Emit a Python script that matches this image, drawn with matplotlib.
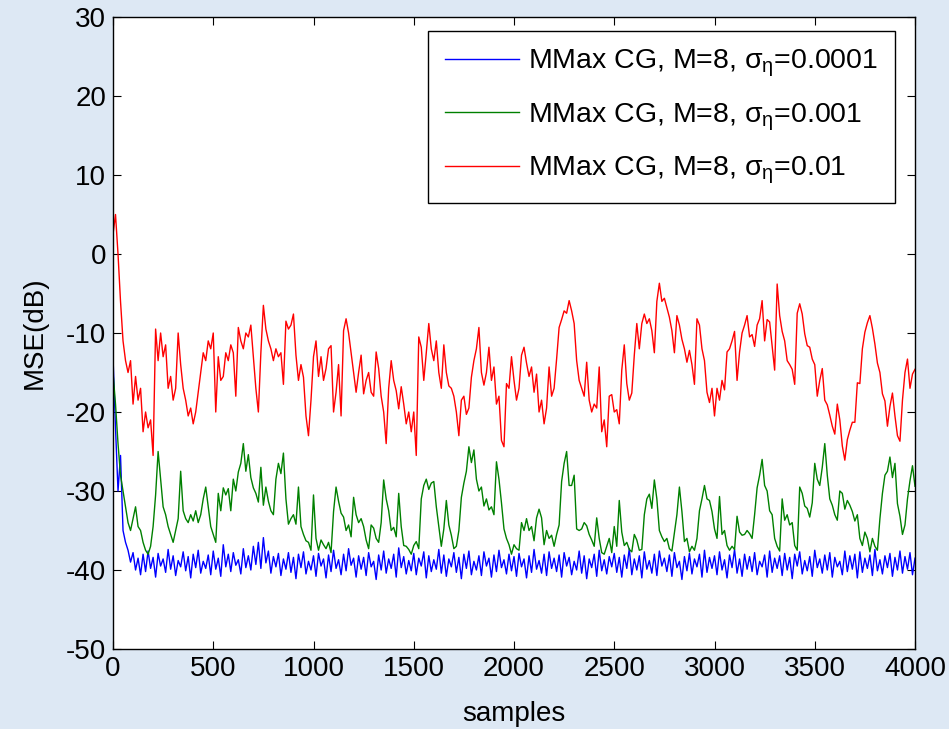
import numpy as np
import matplotlib
matplotlib.use("Agg")
import matplotlib.pyplot as plt

plt.rcParams['font.family'] = ['Liberation Sans', 'DejaVu Sans']
plt.rcParams['mathtext.fontset'] = 'custom'
plt.rcParams['mathtext.rm'] = 'Liberation Sans'
plt.rcParams['mathtext.it'] = 'Liberation Sans'
plt.rcParams['axes.unicode_minus'] = False

labels = [r'MMax CG, M=8, $\sigma_{\eta}$=0.0001',
          r'MMax CG, M=8, $\sigma_{\eta}$=0.001',
          r'MMax CG, M=8, $\sigma_{\eta}$=0.01']
colors = ['#0000ff', '#008000', '#ff0000']

xticks = [0, 500, 1000, 1500, 2000, 2500, 3000, 3500, 4000]
yticks = [-50, -40, -30, -20, -10, 0, 10, 20, 30]

# MSE (dB), read every 12.5 samples from 0 to 4000
mse_blue = [
    -13, -22, -30, -25.5, -35, -36.5, -37.5, -39, -37.8, -40,
    -38.5, -40.6, -38.0, -40.2, -37.6, -39.8, -38.4, -40.9, -37.9, -39.5,
    -38.6, -40.3, -37.4, -39.9, -38.2, -40.7, -38.8, -39.6, -37.7, -40.1,
    -38.3, -41.0, -38.0, -39.7, -37.5, -40.4, -38.9, -39.8, -38.1, -40.6,
    -37.6, -39.9, -38.5, -40.8, -36.8, -39.6, -38.0, -40.2, -37.8, -39.4,
    -38.7, -40.5, -37.3, -39.7, -38.2, -40.0, -37.0, -39.3, -36.5, -39.8,
    -35.9, -39.1, -37.6, -40.4, -38.3, -39.6, -37.9, -40.7, -38.6, -39.9,
    -37.8, -40.3, -38.4, -41.1, -38.0, -39.7, -37.7, -40.5, -38.9, -40.0,
    -38.2, -40.8, -37.9, -39.5, -38.6, -41.0, -38.1, -40.2, -37.5, -39.8,
    -38.7, -40.6, -38.0, -40.1, -37.3, -39.4, -38.5, -40.9, -38.2, -39.9,
    -38.4, -40.7, -37.8, -39.6, -38.9, -41.2, -38.1, -40.0, -37.6, -40.4,
    -38.6, -39.8, -38.0, -40.9, -37.2, -39.7, -38.3, -40.5, -38.8, -40.1,
    -37.9, -40.6, -38.5, -39.5, -37.7, -41.0, -38.2, -40.2, -38.7, -39.9,
    -37.4, -40.4, -38.1, -40.8, -38.6, -39.6, -37.8, -40.3, -38.4, -41.1,
    -38.0, -39.8, -37.6, -40.6, -38.9, -40.0, -38.2, -40.7, -37.7, -39.5,
    -38.5, -40.9, -38.1, -40.2, -37.5, -39.7, -38.7, -40.5, -38.0, -40.1,
    -38.3, -40.8, -37.9, -39.6, -38.6, -41.0, -38.2, -40.3, -37.4, -39.9,
    -38.8, -40.4, -38.0, -40.7, -37.7, -39.8, -38.5, -40.2, -38.1, -40.9,
    -37.8, -39.5, -38.4, -40.6, -38.9, -40.0, -37.6, -40.4, -38.2, -41.1,
    -38.6, -39.7, -38.0, -40.8, -37.5, -40.1, -38.7, -40.5, -38.3, -39.6,
    -37.9, -40.3, -38.4, -40.9, -38.1, -39.8, -37.3, -40.6, -38.6, -40.0,
    -38.2, -41.0, -37.7, -39.9, -38.8, -40.4, -38.0, -40.7, -37.6, -39.5,
    -38.5, -40.2, -38.1, -40.8, -37.8, -39.7, -38.9, -41.2, -38.3, -40.1,
    -37.9, -40.5, -38.6, -39.6, -38.0, -40.9, -37.5, -40.3, -38.4, -39.8,
    -38.2, -40.6, -37.7, -40.0, -38.7, -41.0, -38.1, -39.7, -37.4, -40.4,
    -38.6, -40.8, -38.0, -39.9, -38.3, -40.2, -37.8, -40.6, -38.9, -39.6,
    -38.1, -40.9, -37.6, -40.3, -38.5, -39.8, -38.2, -40.7, -37.9, -40.0,
    -38.4, -41.1, -38.0, -39.5, -37.7, -40.5, -38.8, -40.1, -38.3, -40.8,
    -37.5, -39.7, -38.6, -40.4, -38.1, -40.0, -37.8, -40.9, -38.4, -39.6,
    -38.9, -40.6, -37.6, -40.2, -38.2, -39.9, -38.0, -41.0, -37.7, -40.3,
    -38.5, -39.8, -38.1, -40.7, -37.4, -40.1, -38.7, -40.5, -38.2, -39.7,
    -37.9, -40.8, -38.4, -40.0, -37.6, -40.4, -38.3, -39.9, -37.8, -40.6,
    -38.5,
]

mse_green = [
    -15, -19, -24, -28, -30, -32, -34, -35, -33.5, -32,
    -34.5, -35, -36.5, -37.5, -38, -37, -34.5, -30.5, -25, -28.5,
    -32, -33, -34.5, -35.5, -36.5, -35, -33.5, -27.5, -32.5, -33.5,
    -34, -33, -33.8, -32.5, -34, -33, -31, -29.5, -32, -34.5,
    -35.5, -36.5, -30.3, -32.5, -29.6, -30.5, -29.7, -32.5, -28.5, -30,
    -27.6, -26.5, -24, -27.5, -25.4, -28.3, -29.6, -30.3, -31.4, -27,
    -31.8, -29.5, -31.3, -32.5, -33, -28.5, -26.5, -27.8, -25.2, -31,
    -34.2, -33.5, -33, -34.2, -29.5, -34.5, -35.5, -36.3, -36.5, -37.5,
    -30.5, -36, -37.5, -36.2, -36.8, -37.3, -36.5, -37.8, -32.6, -29.5,
    -31.3, -32.8, -33.3, -35, -34.3, -35.8, -30.8, -33, -34, -33.5,
    -34.5, -36.2, -37.3, -34.3, -34.7, -36, -36.5, -34, -28.6, -31,
    -32.5, -35, -34.6, -35.8, -30.3, -34.5, -36.9, -37, -37.4, -38,
    -36.9, -36.4, -37.3, -31, -29.3, -28.5, -29.8, -29, -28.8, -32,
    -34.5, -37, -34.8, -31.2, -34.3, -35.6, -37.3, -37, -35, -30.8,
    -29, -27.5, -24.4, -26.4, -24.8, -28.5, -30, -29.5, -31.9, -31,
    -32.4, -32, -33, -26.3, -28.5, -31.5, -34.8, -36, -36.8, -38,
    -36.8, -37.3, -37.5, -34, -35, -33.5, -35, -34.5, -36.3, -33.4,
    -32.3, -33.4, -36.8, -35, -36, -35.6, -37, -35.5, -34.3, -28.8,
    -26.5, -25, -29.3, -29.3, -28, -34.8, -35, -34.8, -34, -34.4,
    -35.5, -36.2, -37, -33.4, -36, -37.8, -38, -37, -36, -37.8,
    -34.5, -37, -31.2, -35.2, -36.9, -36.5, -37.4, -37.7, -35.5, -36.2,
    -37.5, -37.4, -33, -31, -30.4, -32.2, -28.6, -31, -35, -35.8,
    -36.4, -36, -37.3, -37.6, -35.3, -33, -29.5, -32.6, -36.4, -36,
    -37.7, -37, -37.5, -36, -32.5, -31, -29.3, -31, -31.2, -32.6,
    -34.8, -36, -30.7, -35.5, -35, -36.9, -37.5, -37, -37.4, -33.2,
    -35.2, -35.6, -35.5, -35, -35.4, -36, -33, -29.6, -28, -26,
    -29.3, -30, -32.5, -33, -36, -37, -37.6, -31, -33.7, -33,
    -34.3, -34, -36.9, -37.5, -29.5, -30.3, -31.9, -32.2, -33.3, -31.5,
    -26.5, -28.5, -29.3, -27, -24, -28, -31, -31.8, -33, -33.7,
    -30, -30.3, -32.3, -31.2, -31.8, -32.6, -33.8, -33, -36, -36.9,
    -35.2, -36, -37.7, -36, -37, -37.5, -33.5, -30.3, -28, -27.5,
    -25.7, -28.3, -26.5, -31.6, -33.2, -35.5, -34.3, -31, -28.7, -26.8,
    -29.4,
]

mse_red = [
    2.5, 5, 0, -6, -11, -13.5, -15, -13.5, -19, -15.5,
    -18.5, -17, -22.5, -20, -22, -21, -25.5, -9.5, -13.5, -10,
    -13, -11.5, -17, -15.5, -18.5, -17, -10, -14, -17, -18.5,
    -20.5, -19.5, -21.5, -20, -17.5, -15, -12.5, -13.5, -11, -12,
    -10, -20, -13, -16, -15.5, -12.5, -13.5, -11.5, -12.5, -18,
    -9.3, -11, -12, -10, -10.5, -9, -13, -17, -20, -12.5,
    -6.5, -9.5, -11, -12, -13.5, -12, -13, -12.5, -16.5, -8.5,
    -9.5, -9, -7.6, -12.8, -16, -14, -15.6, -20.5, -23, -18.5,
    -13, -11, -15.5, -13, -16, -14.5, -12, -11.6, -20, -17.5,
    -14, -20.5, -9.7, -8.2, -10, -12.5, -15, -17.5, -15, -12.8,
    -17.7, -16, -15, -17.5, -18, -12.4, -14.5, -18, -20, -24,
    -17, -13.5, -16, -17.3, -19.6, -16.8, -19, -21.5, -20, -22.5,
    -20, -25.5, -10.5, -11.8, -16, -12.5, -8.8, -12, -13.5, -11,
    -15, -17, -11.5, -15, -16.7, -17, -18, -20, -23, -18.5,
    -18, -20.3, -19.5, -15.6, -13.5, -12, -9.3, -15, -16.6, -15,
    -11.8, -16, -14.3, -19, -18, -23.6, -24.4, -16.4, -17, -13,
    -16, -18.5, -17, -12.8, -11.8, -13.8, -15.5, -14.3, -17.5, -15.2,
    -20, -18.5, -21.5, -19.5, -14.3, -18, -17, -13.3, -9.3, -8.3,
    -7.2, -7.5, -5.9, -7.2, -8.8, -13.5, -16, -17, -18, -13.7,
    -18.5, -20, -19, -19.5, -14.3, -22.5, -21, -24.4, -18, -17.8,
    -20, -19.7, -21.5, -14.7, -11.5, -16.4, -18.5, -17.6, -12.8, -8.8,
    -12, -8.8, -7.6, -8.8, -8.2, -9.7, -12.5, -6, -3.7, -6,
    -5.6, -6.8, -8, -9.7, -12.5, -7.8, -9, -10.8, -12, -13.7,
    -12.2, -14, -16.5, -8.2, -9, -12, -13.5, -17.5, -18.8, -17,
    -20.5, -17, -18.5, -16, -17.2, -12.4, -12, -11, -9.8, -16,
    -12.4, -10, -9, -7.8, -10.5, -10.2, -11.7, -9, -8.2, -5.9,
    -11, -8.3, -8.6, -11.6, -14.7, -3.8, -7.8, -9.8, -11, -13.5,
    -14, -14.6, -16.5, -7.5, -6.3, -7.6, -10.1, -11.6, -11.8, -13.3,
    -14, -18, -16, -14.5, -18.5, -19.1, -20.4, -21.8, -22.8, -19,
    -21, -24.3, -26.1, -23.5, -22.3, -21.3, -21.3, -16.3, -16.4, -12,
    -9.9, -8.7, -7.8, -9.4, -11.4, -13.8, -15, -17.7, -18.6, -21.8,
    -19.3, -17.6, -20.5, -23, -23.7, -18.5, -15, -13.3, -17, -15.2,
    -14.6,
]

series = [mse_blue, mse_green, mse_red]

fig = plt.figure(figsize=(9.49, 7.29), dpi=100)
fig.patch.set_facecolor('#dde8f4')
ax = fig.add_axes([113/949, 80/729, 802/949, 632/729])
ax.set_facecolor('white')

for vals, col, lab in zip(series, colors, labels):
    xs = np.linspace(0, 4000, len(vals))
    ax.plot(xs, vals, color=col, lw=1.0, label=lab)

ax.set_xlim(0, 4000)
ax.set_ylim(-50, 30)
ax.set_xticks(xticks)
ax.set_yticks(yticks)
ax.tick_params(direction='in', top=True, right=True, length=6, width=0.8,
               labelsize=20, pad=5, colors='black')
for sp in ax.spines.values():
    sp.set_linewidth(1.0)
    sp.set_color('black')

ax.set_xlabel('samples', fontsize=20, labelpad=14)
ax.set_ylabel('MSE(dB)', fontsize=20, labelpad=13)

leg = ax.legend(loc='upper right', bbox_to_anchor=(0.975, 0.978),
                borderaxespad=0, fontsize=20.5, handlelength=2.6,
                handletextpad=0.3, labelspacing=0.78, borderpad=0.6,
                fancybox=False, framealpha=1, edgecolor='black')
leg.get_frame().set_linewidth(1.0)

fig.savefig('out.png', dpi=100, facecolor=fig.get_facecolor())
